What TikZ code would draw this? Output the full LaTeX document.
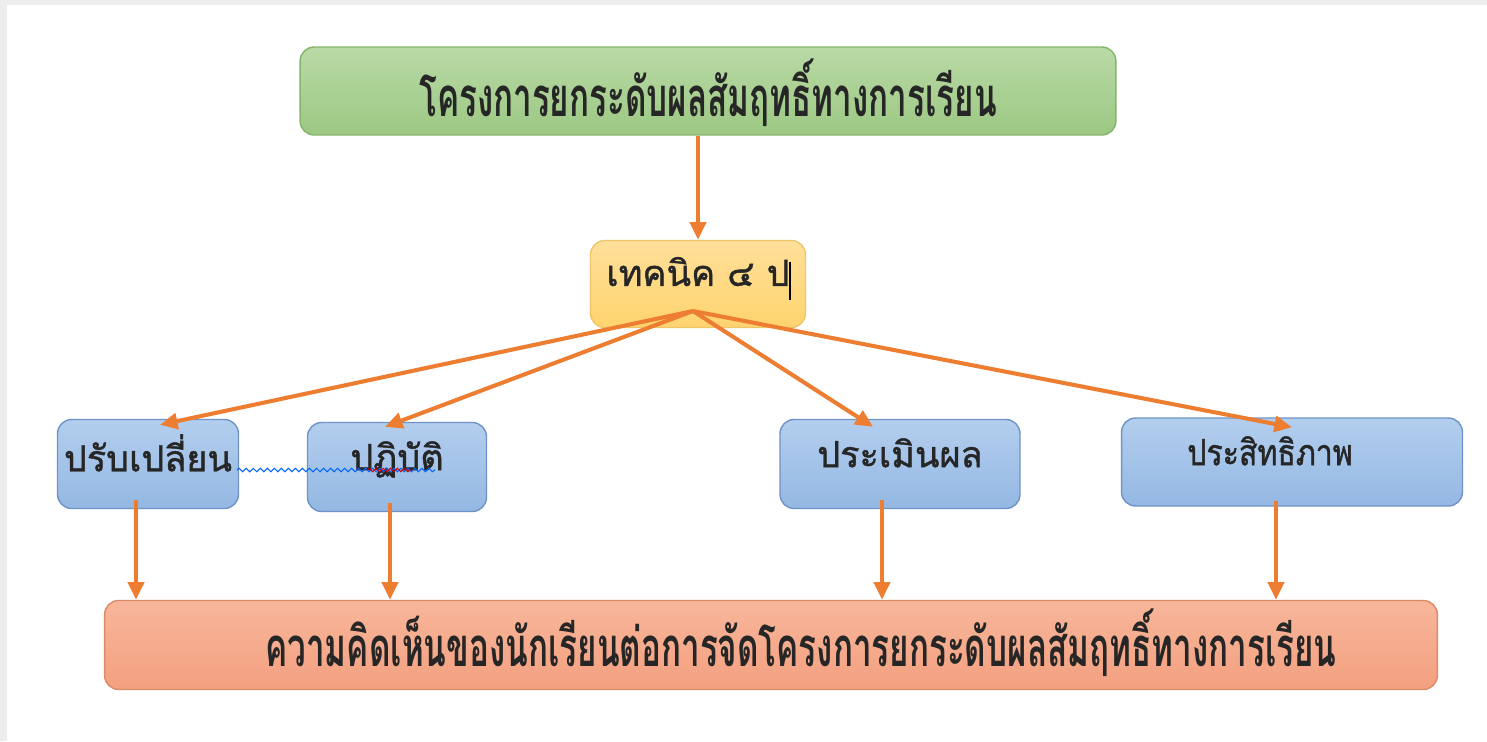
\documentclass[tikz,border=0pt]{standalone}
\usepackage{fontspec}
\newfontfamily\thaifont[Script=Thai,FakeBold=1.2]{Loma}
\newfontfamily\thainarrow[Script=Thai,FakeBold=1.2,FakeStretch=0.84]{Loma}
\newfontfamily\thaicond[Script=Thai,FakeStretch=0.61]{Loma Bold}
\usetikzlibrary{arrows.meta,decorations.pathmorphing}

\definecolor{arroworange}{HTML}{ED7D31}
\definecolor{greentop}{HTML}{B9DAA6}
\definecolor{greenbot}{HTML}{9CC883}
\definecolor{greenline}{HTML}{86B46A}
\definecolor{yellowtop}{HTML}{FFE09A}
\definecolor{yellowbot}{HTML}{FFD36E}
\definecolor{yellowline}{HTML}{EDC66A}
\definecolor{bluetop}{HTML}{B3CEEE}
\definecolor{bluebot}{HTML}{94B8E3}
\definecolor{blueline}{HTML}{6F93C6}
\definecolor{salmontop}{HTML}{F8B69A}
\definecolor{salmonbot}{HTML}{F3A080}
\definecolor{salmonline}{HTML}{D98A66}

\tikzset{
  box/.style={rounded corners=8pt, draw, line width=0.8pt, inner sep=0pt, align=center},
  greenbox/.style={box, draw=greenline, top color=greentop, bottom color=greenbot},
  yellowbox/.style={box, draw=yellowline, top color=yellowtop, bottom color=yellowbot},
  bluebox/.style={box, draw=blueline, top color=bluetop, bottom color=bluebot},
  salmonbox/.style={box, draw=salmonline, top color=salmontop, bottom color=salmonbot},
  bigtext/.style={font=\thaicond\fontsize{31}{36}\selectfont, text=black!85},
  smalltext/.style={font=\thaifont\fontsize{20.5}{24}\selectfont, text=black!85},
  arrow/.style={draw=arroworange, line width=2.3pt, -{Triangle[length=10pt,width=9pt]}}
}

\begin{document}
\begin{tikzpicture}[x=0.02cm,y=-0.02cm]
% page
\fill[black!7] (0,0) rectangle (1487,741);
\fill[white] (7,5) rectangle (1487,741);
\useasboundingbox (0,0) rectangle (1487,741);

% boxes
\node[greenbox, bigtext, minimum width=16.32cm, minimum height=1.76cm, text depth=0.15cm] (project) at (708,91)
  {โครงการยกระดับผลสัมฤทธิ์ทางการเรียน};
\node[yellowbox, smalltext, minimum width=4.3cm, minimum height=1.74cm, text depth=0.5cm] (technique) at (698,284)
  {เทคนิค ๔ ป};
\node[bluebox, smalltext, minimum width=3.62cm, minimum height=1.78cm, text depth=0.45cm] (change) at (148,464)
  {ปรับเปลี่ยน};
\node[bluebox, smalltext, minimum width=3.58cm, minimum height=1.78cm, text depth=0.45cm] (practice) at (397,467)
  {ปฏิบัติ};
\node[bluebox, smalltext, minimum width=4.8cm, minimum height=1.78cm, text depth=0.45cm] (evaluate) at (900,464)
  {ประเมินผล};
\node[bluebox, smalltext, font=\thainarrow\fontsize{20.5}{24}\selectfont, minimum width=6.82cm, minimum height=1.76cm, text depth=0.45cm] (efficiency) at (1292,462)
  {ประสิทธิภาพ\hspace*{0.88cm}};
\node[salmonbox, bigtext, minimum width=26.66cm, minimum height=1.78cm, text depth=0.3cm] (result) at (771,645)
  {\hspace*{1.2cm}ความคิดเห็นของนักเรียนต่อการจัดโครงการยกระดับผลสัมฤทธิ์ทางการเรียน};

% spell-check underline and cursor
\draw[blue!60!cyan, line width=0.6pt, decorate, decoration={snake, amplitude=1pt, segment length=4pt}]
  (237,470) -- (435,470);
\draw[red!80!black, line width=0.6pt, decorate, decoration={snake, amplitude=1pt, segment length=4pt}]
  (367,470) -- (412,470);
\draw[black, line width=0.8pt] (790,262) -- (790,300);

% arrows
\coordinate (hub) at (693,311);
\draw[arrow] (project.south -| technique.north) -- (technique.north);
\draw[arrow] (hub) -- ([xshift=0.24cm,yshift=-0.12cm]change.north);
\draw[arrow] (hub) -- ([xshift=-0.24cm,yshift=-0.1cm]practice.north);
\draw[arrow] (hub) -- ([xshift=-0.54cm,yshift=-0.16cm]evaluate.north);
\draw[arrow] (hub) -- ([yshift=-0.2cm]efficiency.north);

\draw[arrow] ([xshift=-0.24cm,yshift=0.18cm]change.south) -- ([xshift=-0.24cm]change.south |- result.north);
\draw[arrow] ([xshift=-0.14cm,yshift=0.18cm]practice.south) -- ([xshift=-0.14cm]practice.south |- result.north);
\draw[arrow] ([xshift=-0.36cm,yshift=0.18cm]evaluate.south) -- ([xshift=-0.36cm]evaluate.south |- result.north);
\draw[arrow] ([xshift=-0.32cm,yshift=0.12cm]efficiency.south) -- ([xshift=-0.32cm]efficiency.south |- result.north);
\end{tikzpicture}
\end{document}
